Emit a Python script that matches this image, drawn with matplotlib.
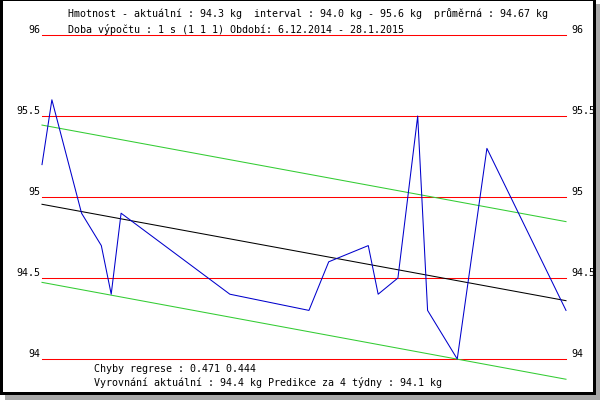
import matplotlib
matplotlib.use("Agg")
import matplotlib.pyplot as plt
from matplotlib.patches import Rectangle

# data (day 0 = 6.12.2014)
days = [0, 1, 4, 6, 7, 8, 19, 27, 29, 33, 34, 36, 38, 39, 42, 45, 53]
weights = [95.2, 95.6, 94.9, 94.7, 94.4, 94.9, 94.4, 94.3, 94.6, 94.7,
           94.4, 94.5, 95.5, 94.3, 94.0, 95.3, 94.3]

levels = [94, 94.5, 95, 95.5, 96]
level_labels = ["94", "94.5", "95", "95.5", "96"]

reg_days = [0, 53]
reg_line = [94.955, 94.36]
upper_band = [95.444, 94.848]
lower_band = [94.473, 93.875]

header1 = "Hmotnost - aktuální : 94.3 kg  interval : 94.0 kg - 95.6 kg  průměrná : 94.67 kg"
header2 = "Doba výpočtu : 1 s (1 1 1) Období: 6.12.2014 - 28.1.2015"
footer1 = "Chyby regrese : 0.471 0.444"
footer2 = "Vyrovnání aktuální : 94.4 kg Predikce za 4 týdny : 94.1 kg"

# layout in pixels (600x400 canvas)
W, H = 600, 400
x_left, x_right = 42, 566
y_top, y_bot = 35, 359
px_day = (x_right - x_left) / (reg_days[1] - reg_days[0])
px_val = (y_bot - y_top) / (levels[-1] - levels[0])

plt.rcParams['font.family'] = ['DejaVu Sans Mono']
fs = 7.2

fig = plt.figure(figsize=(W / 100, H / 100), dpi=100)
fig.patch.set_facecolor('white')

# frame with shadow
bg = fig.add_axes([0, 0, 1, 1])
bg.set_xlim(0, W)
bg.set_ylim(H, 0)
bg.axis('off')
bg.add_patch(Rectangle((596, 4), 4, 396, color='#a8a8a8', lw=0))
bg.add_patch(Rectangle((5, 395), 595, 5, color='#a8a8a8', lw=0))
bg.add_patch(Rectangle((0, 0), 596, 1, color='black', lw=0))
bg.add_patch(Rectangle((0, 0), 3, 395, color='black', lw=0))
bg.add_patch(Rectangle((593, 0), 3, 395, color='black', lw=0))
bg.add_patch(Rectangle((0, 392), 596, 3, color='black', lw=0))

ax = fig.add_axes([0, 0, 1, 1])
ax.patch.set_alpha(0)
ax.axis('off')
ax.set_xlim(-x_left / px_day, (W - x_left) / px_day)
ax.set_ylim(levels[-1] - (H - y_top) / px_val, levels[-1] + y_top / px_val)

lw = 0.75
for lev, lab in zip(levels, level_labels):
    ax.plot(reg_days, [lev, lev], color='#ff0000', lw=lw)
    ax.annotate(lab, (reg_days[0], lev), xytext=(-1.5, 1.2), textcoords='offset points',
                ha='right', va='baseline', fontsize=fs)
    ax.annotate(lab, (reg_days[1], lev), xytext=(4, 1.2), textcoords='offset points',
                ha='left', va='baseline', fontsize=fs)

ax.plot(reg_days, upper_band, color='#33cc33', lw=lw)
ax.plot(reg_days, lower_band, color='#33cc33', lw=lw)
ax.plot(reg_days, reg_line, color='black', lw=lw)
ax.plot(days, weights, color='#0000cc', lw=lw)

fig.text(68 / W, 1 - 13.5 / H, header1, fontsize=fs, va='center', ha='left')
fig.text(68 / W, 1 - 29.5 / H, header2, fontsize=fs, va='center', ha='left')
fig.text(94 / W, 1 - 369 / H, footer1, fontsize=fs, va='center', ha='left')
fig.text(94 / W, 1 - 382 / H, footer2, fontsize=fs, va='center', ha='left')

fig.savefig('out.png', dpi=100)
